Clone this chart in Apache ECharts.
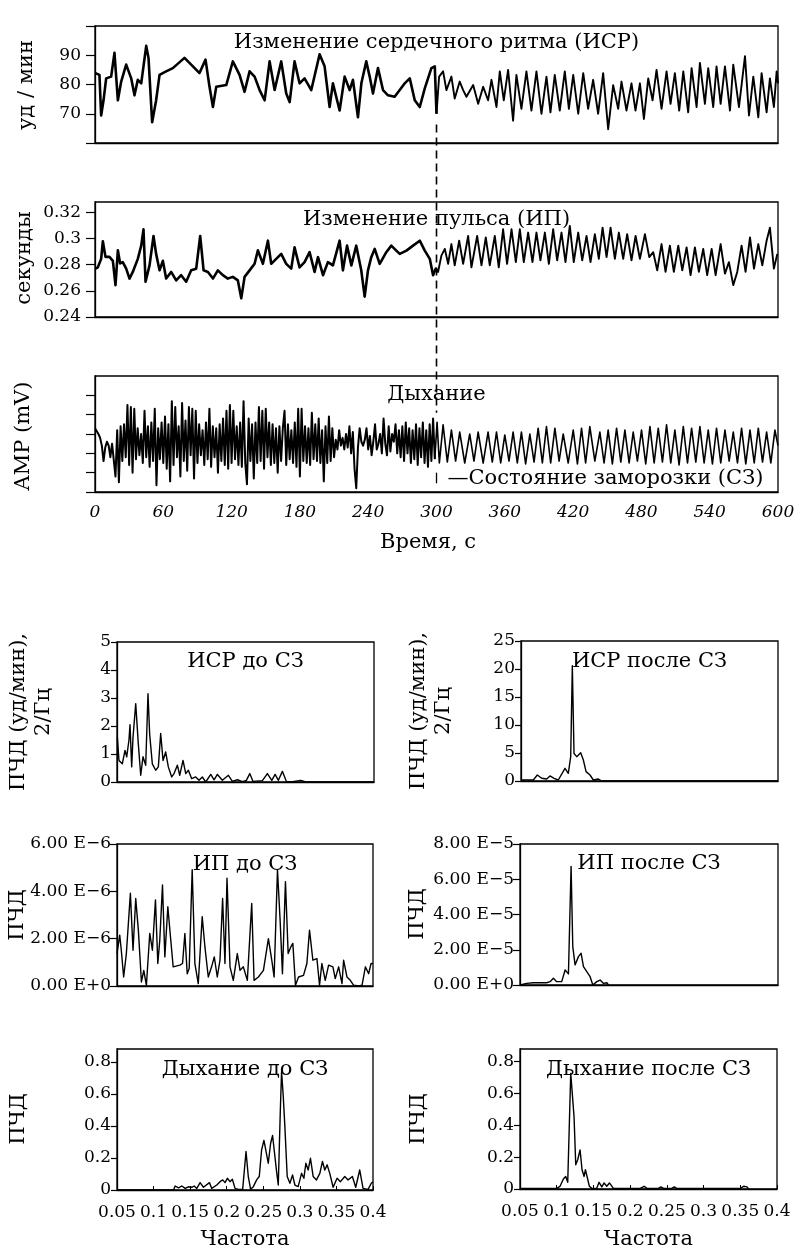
<!DOCTYPE html>
<html><head><meta charset="utf-8">
<script src="https://cdn.jsdelivr.net/npm/echarts@6/dist/echarts.min.js"></script>
<style>html,body{margin:0;padding:0;background:#fff}#c{width:800px;height:1257px}</style>
</head><body><div id="c"></div>
<script>
// ---------------- DATA ----------------
// time axis ticks (s)
const timeTicks = [0, 60, 120, 180, 240, 300, 360, 420, 480, 540, 600];
const freezeTime = 300;
// heart rate, [time s, beats/min]
const hrSeries = [[0.4,83.9],[3.9,83.3],[5.4,69.4],[7.5,74.6],[9.8,82.1],[14.2,82.7],[17.1,90.8],[20.1,74.6],[23,81],[27.4,86.8],[31.8,82.1],[34.7,76.3],[37.6,81.6],[40.6,80.4],[45,93.2],[47,89.1],[50.2,67.1],[53.7,74.6],[56.7,83.3],[62.5,84.5],[68.4,85.6],[78.6,89.1],[86,86.2],[91.8,83.9],[97.1,88.5],[100.6,79.2],[103.6,72.3],[106.5,79.2],[115.3,79.8],[121.1,87.9],[127,83.3],[131.4,77.5],[135.8,84.5],[140.2,82.7],[144.6,78.1],[149,74.6],[153.4,87.9],[157.8,78.1],[163.6,87.9],[168,76.9],[171,74],[175.3,87.9],[179.7,80.4],[184.1,82.1],[190,78.1],[197.3,90.3],[201.7,86.2],[206.1,72.3],[209,80.4],[214.9,71.1],[219.3,82.7],[223.7,78.1],[226.6,81.6],[231,68.8],[234,80.4],[238.3,87.9],[241.3,82.7],[244.2,76.9],[248.6,85.6],[253,78.1],[257.4,76.3],[263.2,75.8],
[267.7,78.1],[272.1,80.4],[276.5,82.1],[280.9,74.6],[285.3,72.3],[289.7,78.7],[295.5,85.6],[298.5,86.2],[300,70],[302.3,82.7],[305.8,84.5],[308.7,78.1],[313.1,82.7],[316,75.2],[320.4,81],[323.4,78.1],[326.3,75.8],[332.2,79.8],[336.6,73.4],[341,79.2],[345.3,74.6],[348.3,81.6],[352.7,72.3],[355.6,84.5],[359.1,74.6],[362.9,85],[367.3,67.6],[370.2,83.3],[374.6,71.7],[379,84.5],[383.4,71.1],[387.8,84.5],[392.2,70],[396.6,82.7],[400.1,70.5],[403.9,83.3],[408.3,71.1],[412.7,84.5],[416.3,71.7],[420.1,83.3],[424.5,70],[428.9,83.9],[433.2,71.7],[437.6,81.6],[442,70],[446.4,83.9],[450.8,64.7],[455.2,79.8],[459.6,71.7],[462.5,81],[466.9,71.1],[471.3,80.4],[474.8,71.1],[478.7,80.4],[482.2,68.2],[486,82.1],[489.8,74.6],[493.3,85],[497.7,71.7],[502.1,84.5],[505.6,73.4],[509.4,83.9],[513.2,71.1],[516.8,84.5],[521.1,70.5],[524.1,85.6],[528.5,72.3],[531.4,87.4],[535.8,73.4],[538.7,85.6],[543.1,72.3],[546,86.2],[549.6,73.4],[553.4,86.2],[557.8,71.1],[560.7,86.8],[565.7,72.3],[571,89.7],[574.5,69.4],[578.3,82.7],[582.7,68.8],[585.6,83.9],[590,70.5],[592.9,82.1],[596.4,72.3],[598.8,84.5],[600,80.4]];
const hrTicks = [70, 80, 90];
// pulse interval, [time s, seconds]
const ipSeries = [[0.4,0.277],[2.5,0.278],[5.4,0.2845],[6.9,0.298],[9.2,0.286],[12.7,0.286],[15.7,0.283],[18,0.2644],[20.1,0.291],[22.1,0.281],[24.4,0.282],[27.4,0.277],[30.3,0.2694],[33.2,0.2745],[37.6,0.2845],[40.6,0.2946],[42.6,0.3071],[44.4,0.267],[47.9,0.2795],[51.4,0.302],[53.7,0.2883],[56.7,0.2757],[59.6,0.283],[62.5,0.2694],[66.9,0.2745],[71.3,0.268],[75.7,0.272],[80.1,0.267],[84.5,0.2757],[88.9,0.277],[92.4,0.302],[95.4,0.2757],[99.2,0.2745],[103.6,0.2694],[107.9,0.2757],[112.3,0.272],[116.7,0.2694],[121.1,0.2707],[125.5,0.268],[128.5,0.2543],[131.4,0.2707],[135.8,0.2757],[140.2,0.2807],[143.1,0.291],[147.5,0.2807],[151.9,0.2984],[154.8,0.2807],[159.2,0.2845],[163.6,0.2883],[168,0.2807],[172.4,0.277],[175.3,0.2933],[179.7,0.278],[184.1,0.282],[188.5,0.2896],[192.9,0.2745],[195.9,0.2858],[200.3,0.272],[204.6,0.282],[209,0.2795],[214.9,0.2984],[217.8,0.2757],[221.4,0.2946],[225.2,0.2795],[229.5,0.2946],[233.9,0.2757],[236.9,0.2556],[239.8,0.2757],[242.7,0.2858],[245.7,0.2921],[250.1,0.2807],[255.9,0.2896],[260.3,0.2946],[264.7,0.2908],
[267.7,0.2883],[273.6,0.2908],[279.4,0.2946],[285.3,0.2984],[289.7,0.2908],[294.1,0.2845],[297,0.272],[299.3,0.277],[301.4,0.2745],[304.3,0.287],[307.3,0.2921],[310.2,0.2807],[313.1,0.2958],[316,0.2795],[319.9,0.2984],[323.4,0.2807],[327.8,0.302],[330.7,0.278],[335.7,0.302],[339.5,0.2795],[343.3,0.3009],[346.8,0.2795],[351.2,0.302],[354.7,0.278],[358.5,0.3071],[362,0.2807],[365.9,0.3071],[369.7,0.282],[373.2,0.3071],[376.7,0.282],[380.5,0.3046],[384.3,0.282],[387.8,0.3046],[391.3,0.2833],[395.2,0.3046],[398.7,0.2807],[402.5,0.3071],[406,0.2833],[409.8,0.3046],[413.3,0.282],[417.1,0.3097],[420.6,0.282],[424.5,0.3046],[428,0.2833],[431.8,0.302],[435.3,0.282],[439.1,0.3034],[442.6,0.2845],[445.9,0.3084],[449.4,0.2858],[452.9,0.3084],[456.7,0.2845],[460.2,0.3046],[464,0.2845],[467.5,0.3034],[471.3,0.2833],[474.9,0.302],[478.7,0.2845],[483.1,0.3034],[486.9,0.2858],[490.4,0.2896],[493.9,0.2757],[497.7,0.2958],[501.2,0.2745],[505,0.2946],[508.5,0.2745],[512.4,0.2946],[515.9,0.2757],[519.7,0.2933],[523.2,0.272],[527,0.2933],[530.5,0.2745],[534.3,0.2921],[537.8,0.272],[541.7,0.2921],[545.2,0.272],[549.6,0.2958],[553.4,0.2732],[556.9,0.282],[560.7,0.2644],[564.2,0.2745],[568,0.2946],[571.5,0.2745],[575.4,0.3009],[578.9,0.277],[582.7,0.2958],[586.2,0.2795],[590,0.2984],[592.9,0.3084],[596.4,0.277],[599.4,0.2883]];
const ipTicks = [0.24, 0.26, 0.28, 0.30, 0.32];
// respiration amplitude before freeze, sampled every respStep s from t = 0
const respStep = 1.5;
const respBefore = [3.3,3.2,3.0,2.8,2.4,1.6,2.3,2.6,2.4,1.8,2.5,2.6,0.8,3.2,
0.5,3.4,1.6,3.5,1.8,4.5,1.4,4.4,1.0,4.3,1.7,3.3,1.9,3.0,1.5,4.2,1.8,3.4,1.3,3.6,
1.6,4.3,0.35,3.3,1.7,3.6,1.5,3.9,1.2,3.5,0.55,4.7,1.4,4.4,1.8,3.4,0.8,4.6,1.6,3.7,
1.1,4.4,1.9,4.3,0.7,4.2,1.5,3.5,1.9,3.2,1.4,3.6,1.7,4.3,1.3,3.4,1.8,3.3,1.0,3.5,
1.6,3.8,1.4,4.2,1.2,4.5,1.5,4.2,1.7,3.4,1.4,3.6,1.3,4.7,1.5,0.4,3.8,1.6,3.5,0.7,
3.6,1.5,4.4,1.6,4.2,1.2,4.3,1.8,3.6,1.4,3.5,1.5,3.3,1.0,3.4,1.6,3.3,4.2,1.4,3.5,
1.7,3.2,1.5,3.6,1.3,4.3,0.8,4.3,1.6,3.4,1.5,3.3,1.4,4.1,1.7,3.5,1.6,3.8,1.5,3.2,
0.55,3.4,1.5,3.9,1.6,3.3,1.8,2.7,2.2,3.2,2.4,2.8,2.2,3.0,2.3,3.4,2.0,3.1,1.2,0.2,
2.3,3.3,2.6,2.4,2.7,3.3,2.2,2.9,1.9,2.6,3.5,2.2,2.5,3.0,2.0,3.8,2.5,1.9,3.4,2.1,
3.0,2.6,3.5,2.0,3.2,1.8,3.4,1.6,3.6,2.0,3.3,1.5,3.2,1.7,3.5,1.4,3.3,1.8,3.6,1.5,
3.2,1.3,3.5,1.6,3.8,1.7];
// respiration after freeze, [time s, amplitude]
const respAfter = [[300.5,3.6],[302.5,1.5],[305.8,3.47],[309.5,1.55],[313.1,3.2],[316.8,1.6],[320.4,3.1],[324.8,1.5],[329.2,3.0],[332.9,1.6],[336.6,3.1],[341,1.5],[345.3,3.1],[349,1.55],[352.7,3.1],[356.4,1.5],[360,2.95],[363.7,1.6],[367.3,3.1],[371,1.5],[374.6,3.1],[378.3,1.45],[382,3.0],[385.7,1.55],[389.3,3.3],[393,1.5],[396.6,3.38],[400.3,1.5],[404,3.3],[407.7,1.6],[411.3,3.0],[415.7,1.5],[420.1,3.2],[423.8,1.45],[427.4,3.3],[431,1.5],[434.7,3.38],[439.1,1.6],[443.5,3.1],[447.2,1.5],[450.8,3.2],[454.5,1.45],[458.2,3.3],[461.9,1.55],[465.5,3.2],[469.2,1.5],[472.8,3.1],[476.5,1.6],[480.1,3.2],[483.8,1.45],[487.5,3.38],[491.2,1.5],[494.8,3.3],[498.5,1.55],[502.1,3.47],[505.8,1.5],[509.4,3.2],[513.1,1.4],[516.8,3.38],[520.5,1.5],[524.1,3.3],[527.8,1.55],[531.4,3.38],[535.1,1.5],[538.7,3.2],[542.4,1.45],[546,3.3],[549.7,1.5],[553.4,3.2],[557.1,1.6],[560.7,3.1],[564.4,1.5],[568,3.3],[571.7,1.45],[575.4,3.2],[579.1,1.5],[582.7,3.3],[586.4,1.55],[590,3.1],[593.7,1.5],[597.3,3.2],[600,2.4]];

// spectra: frequency ticks
const freqTicks = [0.05, 0.1, 0.15, 0.2, 0.25, 0.3, 0.35, 0.4];
const freqTickLabels = ['0.05','0.1','0.15','0.2','0.25','0.3','0.35','0.4'];
// HRV PSD, [Hz, (bpm)^2/Hz]
const isrBefore = [[0.0505,1.6],[0.0527,0.77],[0.0572,0.65],[0.0609,1.13],[0.0632,0.9],[0.0663,1.5],[0.0677,2.05],[0.07,0.54],[0.0718,1.6],[0.0755,2.8],[0.079,1.37],[0.0823,0.24],[0.0854,0.9],[0.0891,0.6],[0.0922,3.15],[0.0945,1.7],[0.0981,0.65],[0.1027,0.42],[0.1063,0.54],[0.1095,1.73],[0.1127,0.77],[0.1163,1.07],[0.1199,0.54],[0.1245,0.18],[0.1277,0.3],[0.1322,0.6],[0.1354,0.24],[0.1399,0.77],[0.1436,0.3],[0.1472,0.42],[0.1517,0.12],[0.1572,0.18],[0.1617,0.06],[0.1662,0.18],[0.1708,0],[0.1777,0.27],[0.1822,0.08],[0.1867,0.27],[0.1935,0.06],[0.2017,0.24],[0.2072,0.02],[0.2139,0.08],[0.2208,0.01],[0.2262,0.06],[0.2308,0.3],[0.2353,0.02],[0.248,0.05],[0.2548,0.3],[0.2608,0.06],[0.2653,0.27],[0.2698,0.06],[0.2752,0.38],[0.2807,0.02],[0.2889,0.01],[0.3003,0.06],[0.3071,0],[0.3616,0],[0.3638,0.06],[0.3684,0],[0.3842,0],[0.3865,0.06],[0.391,0],[0.4,0]];
const isrBeforeTicks = [0, 1, 2, 3, 4, 5];
const isrAfter = [[0.05,0.18],[0.0668,0.18],[0.0722,1.07],[0.0782,0.48],[0.085,0.36],[0.0895,0.9],[0.095,0.48],[0.1008,0.18],[0.1031,0.06],[0.1099,2.26],[0.1144,1.37],[0.1177,4.35],[0.1199,20.6],[0.1222,4.9],[0.1259,4.35],[0.1313,5.06],[0.1349,3.75],[0.1386,1.67],[0.144,1.07],[0.1485,0.18],[0.1553,0.36],[0.16,0],[0.4,0]];
const isrAfterTicks = [0, 5, 10, 15, 20, 25];
// pulse-interval PSD, in units of 1E-6 (before) and 1E-5 (after)
const ipBefore = [[0.05,1.37],[0.0537,2.15],[0.0559,1.5],[0.0591,0.38],[0.0628,1.37],[0.0683,3.92],[0.0719,1.51],[0.0756,3.7],[0.0792,2.36],[0.0834,0.17],[0.0866,0.66],[0.0902,0.03],[0.0948,2.22],[0.0984,1.51],[0.1026,3.64],[0.1058,0.95],[0.1085,1.94],[0.1122,4.27],[0.1154,1.23],[0.1195,3.35],[0.1231,2.08],[0.1268,0.81],[0.1359,0.88],[0.1396,0.95],[0.1428,2.22],[0.146,0.52],[0.1487,0.74],[0.1528,4.91],[0.1565,0.95],[0.1611,0.1],[0.1665,2.93],[0.1702,1.65],[0.1748,0.38],[0.1793,0.81],[0.183,1.23],[0.1871,0.38],[0.1908,1.09],[0.1944,3.7],[0.1976,0.95],[0.2004,4.55],[0.2045,0.81],[0.209,0.24],[0.2145,1.37],[0.2182,0.66],[0.2227,0.81],[0.2282,0.24],[0.2342,3.49],[0.2374,0.24],[0.2433,0.38],[0.2502,0.66],[0.257,2.0],[0.2616,1.09],[0.2648,0.38],[0.2694,4.91],[0.273,2.79],[0.2762,0.52],[0.2803,4.41],[0.284,1.37],[0.2876,1.65],[0.2904,1.8],[0.294,0.03],[0.2982,0.38],[0.305,0.45],[0.3096,0.95],[0.3132,2.36],[0.3178,1.09],[0.3233,1.16],[0.3269,0.03],[0.3301,0.95],[0.3347,0.24],[0.3393,0.88],[0.3452,0.81],[0.3484,0.31],[0.353,0.81],[0.3576,0.1],[0.3598,1.09],[0.3644,0.38],[0.369,0.24],[0.3736,0.03],[0.3804,0],[0.385,0.03],[0.3896,0.81],[0.3941,0.52],[0.3973,0.95],[0.4,0.95]];
const ipBeforeTickLabels = ['0.00 E+0', '2.00 E\u22126', '4.00 E\u22126', '6.00 E\u22126'];
const ipAfter = [[0.05,0],[0.0591,0.09],[0.0681,0.13],[0.0862,0.13],[0.0908,0.19],[0.0953,0.38],[0.0998,0.19],[0.1066,0.19],[0.1112,0.85],[0.1157,0.63],[0.1193,6.73],[0.1216,2.18],[0.1247,1.14],[0.1293,1.61],[0.1329,1.8],[0.1361,1.04],[0.1406,0.76],[0.1451,0.47],[0.1488,0],[0.1542,0.19],[0.1587,0.28],[0.1633,0.09],[0.1678,0.13],[0.17,0]];
const ipAfterTickLabels = ['0.00 E+0', '2.00 E\u22125', '4.00 E\u22125', '6.00 E\u22125', '8.00 E\u22125'];
// respiration PSD
const respPsdBefore = [[0.05,0],[0.1273,0],[0.1295,0.025],[0.1341,0.013],[0.1386,0.025],[0.1432,0.01],[0.1477,0.02],[0.1523,0.017],[0.1555,0.025],[0.1591,0.01],[0.1636,0.046],[0.1682,0.017],[0.1764,0.046],[0.1795,0.01],[0.1864,0.031],[0.1909,0.052],[0.1945,0.063],[0.1977,0.046],[0.2009,0.073],[0.2045,0.052],[0.2077,0.067],[0.2114,0.01],[0.2159,0.004],[0.2218,0.004],[0.2264,0.24],[0.2295,0.084],[0.2327,0.004],[0.2364,0.021],[0.2409,0.063],[0.2445,0.084],[0.2477,0.25],[0.2509,0.31],[0.2536,0.32],[0.2568,0.167],[0.26,0.29],[0.2627,0.34],[0.265,0.345],[0.2682,0.115],[0.2705,0.031],[0.2732,0.48],[0.275,0.74],[0.2773,0.585],[0.2795,0.397],[0.2827,0.084],[0.2864,0.042],[0.29,0.094],[0.2932,0.031],[0.2977,0.021],[0.3023,0.104],[0.3055,0.073],[0.3082,0.167],[0.3114,0.125],[0.3145,0.198],[0.3182,0.084],[0.3227,0.063],[0.3273,0.104],[0.3309,0.178],[0.3341,0.125],[0.3373,0.157],[0.3409,0.104],[0.3455,0.017],[0.3509,0.073],[0.3555,0.052],[0.3614,0.084],[0.3659,0.063],[0.3718,0.084],[0.3764,0.017],[0.3818,0.125],[0.3864,0.01],[0.3932,0.004],[0.3977,0.042],[0.4,0.052]];
const respPsdAfter = [[0.05,0.004],[0.1,0.004],[0.1045,0.017],[0.1091,0.063],[0.1123,0.079],[0.115,0.042],[0.1173,0.048],[0.1191,0.727],[0.1214,0.737],[0.1236,0.455],[0.1259,0.152],[0.1286,0.184],[0.1318,0.246],[0.1345,0.121],[0.1373,0.079],[0.1391,0.121],[0.1418,0.069],[0.1445,0.017],[0.1477,0.004],[0.1545,0.004],[0.1577,0.042],[0.1614,0.013],[0.1645,0.038],[0.1682,0.017],[0.1718,0.038],[0.1773,0.004],[0.2136,0.004],[0.2191,0.017],[0.2227,0.004],[0.2386,0.004],[0.2418,0.013],[0.2455,0.004],[0.2568,0.004],[0.26,0.013],[0.2636,0.004],[0.35,0.004],[0.3545,0.017],[0.3591,0.013],[0.3614,0]];
const respPsdTicks = [0, 0.2, 0.4, 0.6, 0.8];

// ---------------- LAYOUT / STYLE ----------------
const FONT = '"DejaVu Serif", serif';
const INK = '#000';
const grids = [
  {left: 95, top: 26, width: 683, height: 117},   // HR
  {left: 95, top: 202, width: 683, height: 115},  // pulse interval
  {left: 95, top: 376, width: 683, height: 116},  // respiration
  {left: 117, top: 642, width: 257, height: 140}, // ИСР до
  {left: 521, top: 641, width: 257, height: 140}, // ИСР после
  {left: 117, top: 844, width: 256, height: 142}, // ИП до
  {left: 520, top: 844, width: 258, height: 141}, // ИП после
  {left: 117, top: 1049, width: 256, height: 141},// Дыхание до
  {left: 520, top: 1049, width: 257, height: 140} // Дыхание после
];
const labelStyle = {color: INK, fontFamily: FONT, fontSize: 17};

function xTime(i, showLabels) {
  return {type: 'value', gridIndex: i, min: 0, max: 600, interval: 60,
    axisLine: {show: true, lineStyle: {color: INK, width: 1.3}},
    axisTick: {show: false}, splitLine: {show: false},
    axisLabel: showLabels ? Object.assign({show: true, margin: 12, fontStyle: 'italic',
      customValues: timeTicks}, labelStyle) : {show: false}};
}
function xFreq(i, showLabels) {
  return {type: 'value', gridIndex: i, min: 0.05, max: 0.4, interval: 0.05,
    axisLine: {show: true, lineStyle: {color: INK, width: 1.3}},
    axisTick: showLabels ? {show: true, inside: true, length: 4, customValues: freqTicks, lineStyle: {color: INK}} : {show: false},
    splitLine: {show: false},
    axisLabel: showLabels ? Object.assign({show: true, margin: 14, customValues: freqTicks,
      formatter: v => freqTickLabels[Math.round((v - 0.05) / 0.05)]}, labelStyle) : {show: false}};
}
function yAx(i, min, max, ticks, labelTicks, fmt, tickLen, margin) {
  return {type: 'value', gridIndex: i, min: min, max: max,
    axisLine: {show: true, lineStyle: {color: INK, width: 1.3}},
    axisTick: {show: true, length: tickLen, customValues: ticks, lineStyle: {color: INK, width: 1.2}},
    splitLine: {show: false},
    axisLabel: labelTicks ? Object.assign({show: true, margin: margin, customValues: labelTicks, formatter: fmt}, labelStyle) : {show: false}};
}
function line(i, data, w) {
  return {type: 'line', xAxisIndex: i, yAxisIndex: i, data: data, symbol: 'none', showSymbol: false,
    lineStyle: {color: INK, width: w, join: 'round'}, silent: true, animation: false};
}

const respBeforePairs = respBefore.map((v, k) => [k * respStep, v]);
const respLatePairs = [respBeforePairs[respBeforePairs.length - 1]].concat(respAfter);
const hrEarly = hrSeries.filter(p => p[0] <= freezeTime);
const hrLate = hrSeries.filter(p => p[0] >= freezeTime);
const ipEarly = ipSeries.filter(p => p[0] <= 301.4);
const ipLate = ipSeries.filter(p => p[0] >= 299.3);

function txt(text, x, y, opts) {
  return Object.assign({type: 'text', x: x, y: y, silent: true,
    style: Object.assign({text: text, font: '21px ' + FONT, fill: INK, align: 'center', verticalAlign: 'middle'}, (opts && opts.style) || {})},
    opts && opts.rotation ? {rotation: opts.rotation} : {});
}
const R = Math.PI / 2;
function gcx(g) { return g.left + g.width / 2; }

const texts = [
  txt('Изменение сердечного ритма (ИСР)', gcx(grids[0]), 43),
  txt('Изменение пульса (ИП)', gcx(grids[1]), 220),
  txt('Дыхание', gcx(grids[2]), 395),
  txt('Время, с', 428, 543),
  txt('уд / мин', 27, 85, {rotation: R}),
  txt('секунды', 25, 258, {rotation: R}),
  txt('AMP (mV)', 24, 436, {rotation: R}),
  txt('ИСР до СЗ', gcx(grids[3]), 662),
  txt('ИСР после СЗ', gcx(grids[4]), 662),
  txt('ИП до СЗ', gcx(grids[5]), 865),
  txt('ИП после СЗ', gcx(grids[6]), 864),
  txt('Дыхание до СЗ', gcx(grids[7]), 1070),
  txt('Дыхание после СЗ', gcx(grids[8]), 1070),
  txt('ПЧД (уд/мин),\n2/Гц', 31, 712, {rotation: R, style: {lineHeight: 25}}),
  txt('ПЧД (уд/мин),\n2/Гц', 431, 711, {rotation: R, style: {lineHeight: 25}}),
  txt('ПЧД', 18, 915, {rotation: R}),
  txt('ПЧД', 418, 914, {rotation: R}),
  txt('ПЧД', 19, 1119, {rotation: R}),
  txt('ПЧД', 419, 1119, {rotation: R}),
  txt('Частота', gcx(grids[7]), 1240),
  txt('Частота', gcx(grids[8]), 1240)
];

const chart = echarts.init(document.getElementById('c'), null, {renderer: 'canvas'});
const option = {
  backgroundColor: '#fff',
  animation: false,
  grid: grids.map(g => Object.assign({show: true, borderColor: INK, borderWidth: 1.3, backgroundColor: 'transparent', containLabel: false}, g)),
  xAxis: [xTime(0, false), xTime(1, false), xTime(2, true),
    xFreq(3, false), xFreq(4, false), xFreq(5, false), xFreq(6, false), xFreq(7, true), xFreq(8, true)],
  yAxis: [
    yAx(0, 60, 100, [60, 70, 80, 90, 100], hrTicks, v => String(v), 9, 14),
    yAx(1, 0.24, 0.328, ipTicks, ipTicks, v => String(Math.round(v * 100) / 100), 9, 14),
    yAx(2, 0, 6, [0, 1, 2, 3, 4, 5], null, null, 9, 14),
    yAx(3, 0, 5, isrBeforeTicks, isrBeforeTicks, v => String(v), 6, 6),
    yAx(4, 0, 25, isrAfterTicks, isrAfterTicks, v => String(v), 6, 6),
    yAx(5, 0, 6, [0, 2, 4, 6], [0, 2, 4, 6], v => ipBeforeTickLabels[Math.round(v / 2)], 7, 6),
    yAx(6, 0, 8, [0, 2, 4, 6, 8], [0, 2, 4, 6, 8], v => ipAfterTickLabels[Math.round(v / 2)], 7, 6),
    yAx(7, 0, 0.88, respPsdTicks, respPsdTicks, v => String(Math.round(v * 10) / 10), 6, 6),
    yAx(8, 0, 0.88, respPsdTicks, respPsdTicks, v => String(Math.round(v * 10) / 10), 6, 6)
  ],
  series: [
    line(0, hrEarly, 2.6), line(0, hrLate, 1.9),
    line(1, ipEarly, 2.6), line(1, ipLate, 1.9),
    line(2, respBeforePairs, 2.0), line(2, respLatePairs, 1.6),
    line(3, isrBefore, 1.4), line(4, isrAfter, 1.4), line(5, ipBefore, 1.4), line(6, ipAfter, 1.4),
    line(7, respPsdBefore, 1.4), line(8, respPsdAfter, 1.4)
  ],
  graphic: texts
};
chart.setOption(option);

// freeze marker: dashed line at t = 300 s through the three time panels
const fx = chart.convertToPixel({xAxisIndex: 0}, freezeTime);
const yTop = chart.convertToPixel({yAxisIndex: 0}, 66.3);
const yBot = chart.convertToPixel({yAxisIndex: 2}, 4.1);
const yM1 = chart.convertToPixel({yAxisIndex: 2}, 1.0);
const yM2 = chart.convertToPixel({yAxisIndex: 2}, 0.45);
const extra = [
  {type: 'line', silent: true, shape: {x1: fx, y1: yTop, x2: fx, y2: yBot},
   style: {stroke: INK, lineWidth: 1.6, lineDash: [8, 5]}},
  {type: 'line', silent: true, shape: {x1: fx, y1: yM1, x2: fx, y2: yM2},
   style: {stroke: INK, lineWidth: 1.3}},
  {type: 'text', silent: true, x: fx + 11, y: (yM1 + yM2) / 2 + 1,
   style: {text: '\u2014Состояние заморозки (СЗ)', font: '21px ' + FONT, fill: INK, align: 'left', verticalAlign: 'middle'}}
];
chart.setOption({graphic: texts.concat(extra)});
</script></body></html>
